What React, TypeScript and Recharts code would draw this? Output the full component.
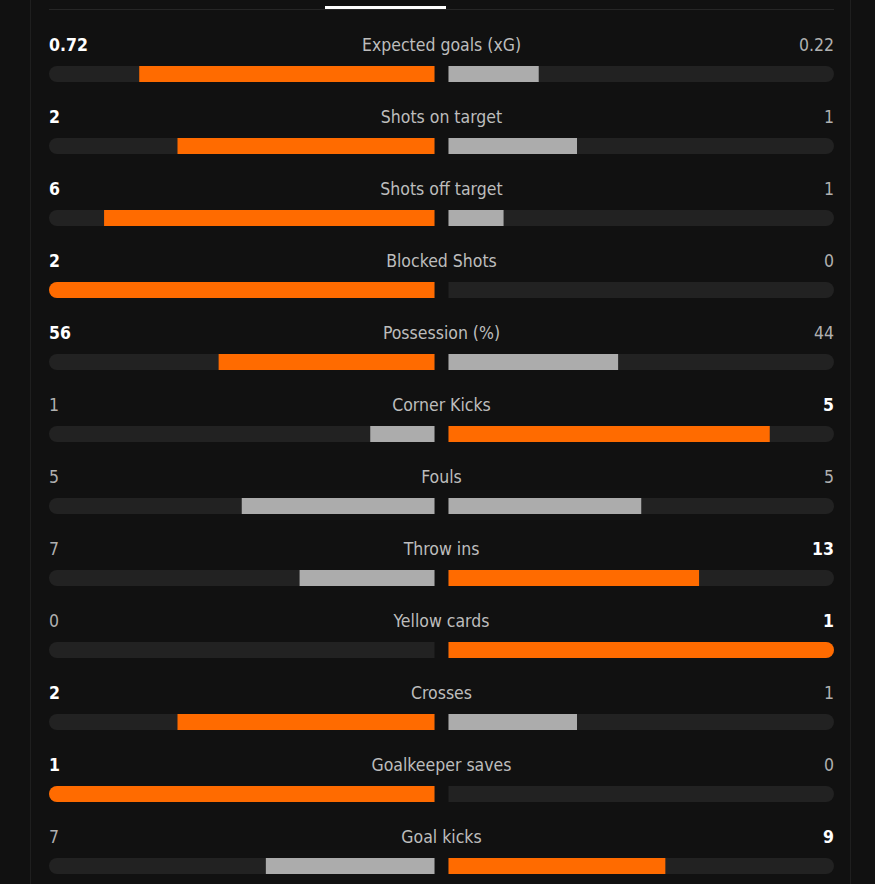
import React from "react";
import { BarChart, Bar, XAxis, YAxis } from "recharts";

const categories = [
  "Expected goals (xG)",
  "Shots on target",
  "Shots off target",
  "Blocked Shots",
  "Possession (%)",
  "Corner Kicks",
  "Fouls",
  "Throw ins",
  "Yellow cards",
  "Crosses",
  "Goalkeeper saves",
  "Goal kicks",
];
const homeValues = [0.72, 2, 6, 2, 56, 1, 5, 7, 0, 2, 1, 7];
const awayValues = [0.22, 1, 1, 0, 44, 5, 5, 13, 1, 1, 0, 9];

const ORANGE = "#ff6b00";
const GREY = "#acacac";
const TRACK = "#222222";
const BG = "#111111";
const GAP = 7;
const FONT = "'Liberation Sans Narrow', 'DejaVu Sans Condensed', 'Roboto', sans-serif";

const data = categories.map((name, i) => {
  const h = homeValues[i];
  const a = awayValues[i];
  const total = h + a;
  return {
    name,
    home: h,
    away: a,
    left: total ? -h / total : 0,
    right: total ? a / total : 0,
    homeWins: h > a,
    awayWins: a > h,
  };
});

function Track(props: any) {
  const { x, y, width, height, index } = props;
  const row = data[index];
  const cx = x + width / 2;
  const r = height / 2;
  const leftPath = `M${cx - GAP},${y} H${x + r} A${r},${r} 0 0 0 ${x + r},${y + height} H${cx - GAP} Z`;
  const rx = x + width;
  const rightPath = `M${cx + GAP},${y} H${rx - r} A${r},${r} 0 0 1 ${rx - r},${y + height} H${cx + GAP} Z`;
  const ty = y - 15;
  return (
    <g>
      <path d={leftPath} fill={TRACK} />
      <path d={rightPath} fill={TRACK} />
      <text
        x={x}
        y={ty}
        fontFamily={FONT}
        fontSize={17.5}
        fontWeight={row.homeWins ? 700 : 400}
        fill={row.homeWins ? "#ffffff" : "#b0b0b0"}
        textAnchor="start"
      >
        {String(row.home)}
      </text>
      <text x={cx} y={ty} fontFamily={FONT} fontSize={17.5} fill="#bdbdbd" textAnchor="middle">
        {row.name}
      </text>
      <text
        x={rx}
        y={ty}
        fontFamily={FONT}
        fontSize={17.5}
        fontWeight={row.awayWins ? 700 : 400}
        fill={row.awayWins ? "#ffffff" : "#b0b0b0"}
        textAnchor="end"
      >
        {String(row.away)}
      </text>
    </g>
  );
}

function makeShape(side: "left" | "right") {
  return (props: any) => {
    const { x, y, width, height, index, background } = props;
    if (!width) return <g />;
    const x0 = Math.min(x, x + width);
    const w = Math.abs(width);
    const half = background ? background.width / 2 : 392.5;
    const cx = background ? background.x + half : side === "left" ? x0 + w : x0;
    const share = w / half;
    const len = share * (half - GAP);
    const row = data[index];
    const wins = side === "left" ? row.homeWins : row.awayWins;
    const fill = wins ? ORANGE : GREY;
    const r = height / 2;
    const full = share > 0.999;
    if (side === "left") {
      const start = cx - GAP - len;
      const d = full
        ? `M${cx - GAP},${y} H${start + r} A${r},${r} 0 0 0 ${start + r},${y + height} H${cx - GAP} Z`
        : `M${cx - GAP},${y} H${start} V${y + height} H${cx - GAP} Z`;
      return <path d={d} fill={fill} />;
    }
    const end = cx + GAP + len;
    const d = full
      ? `M${cx + GAP},${y} H${end - r} A${r},${r} 0 0 1 ${end - r},${y + height} H${cx + GAP} Z`
      : `M${cx + GAP},${y} H${end} V${y + height} H${cx + GAP} Z`;
    return <path d={d} fill={fill} />;
  };
}

export default function App() {
  return (
    <div
      style={{
        position: "absolute",
        left: 0,
        top: 0,
        width: 875,
        height: 884,
        background: BG,
        overflow: "hidden",
      }}
    >
      <div style={{ position: "absolute", left: 30, top: 0, width: 1, height: 884, background: "#1f1f1f" }} />
      <div style={{ position: "absolute", left: 850, top: 0, width: 1, height: 884, background: "#1f1f1f" }} />
      <div style={{ position: "absolute", left: 49, top: 9, width: 785, height: 1, background: "#262626" }} />
      <div style={{ position: "absolute", left: 325, top: 6, width: 121, height: 3, background: "#ffffff" }} />
      <div style={{ position: "absolute", left: 0, top: 0 }}>
        <BarChart
          width={875}
          height={902}
          data={data}
          layout="vertical"
          stackOffset="sign"
          barSize={16}
          margin={{ top: 38, right: 41, left: 49, bottom: 0 }}
        >
          <XAxis type="number" domain={[-1, 1]} hide />
          <YAxis type="category" dataKey="name" hide />
          <Bar
            dataKey="left"
            stackId="s"
            isAnimationActive={false}
            background={Track}
            shape={makeShape("left")}
          />
          <Bar dataKey="right" stackId="s" isAnimationActive={false} shape={makeShape("right")} />
        </BarChart>
      </div>
    </div>
  );
}
